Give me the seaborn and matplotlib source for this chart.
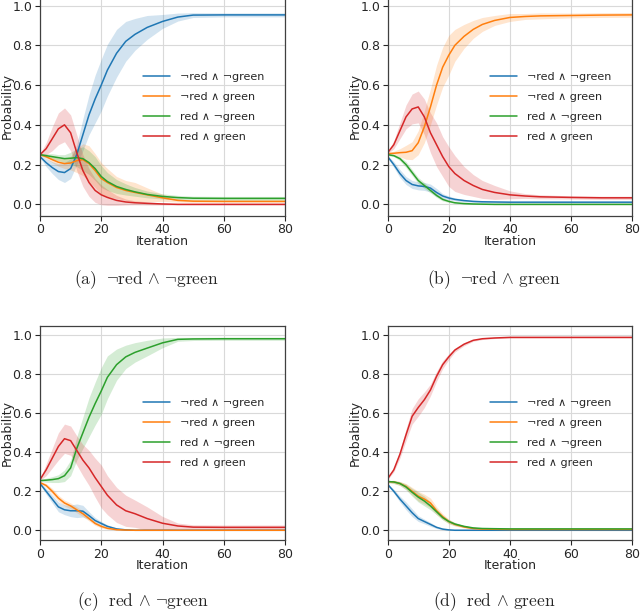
import numpy as np
import pandas as pd
import matplotlib
matplotlib.use("Agg")
import matplotlib.pyplot as plt
import seaborn as sns

ITERS = [0, 2, 4, 6, 8, 10, 12, 14, 16, 18, 20, 22, 25, 28, 31, 35, 40, 45, 50, 60, 70, 80]
LABELS = ["¬red ∧ ¬green", "¬red ∧ green", "red ∧ ¬green", "red ∧ green"]
CAPTIONS = [r"$(\mathrm{a})\ \ \neg\mathrm{red}\,\wedge\,\neg\mathrm{green}$",
            r"$(\mathrm{b})\ \ \neg\mathrm{red}\,\wedge\,\mathrm{green}$",
            r"$(\mathrm{c})\ \ \mathrm{red}\,\wedge\,\neg\mathrm{green}$",
            r"$(\mathrm{d})\ \ \mathrm{red}\,\wedge\,\mathrm{green}$"]

# (a) target: not red and not green
a_mean = [
    [0.24, 0.21, 0.185, 0.165, 0.16, 0.18, 0.25, 0.35, 0.45, 0.53, 0.60, 0.675, 0.76, 0.82, 0.855, 0.89, 0.92, 0.942, 0.952, 0.953, 0.953, 0.953],
    [0.25, 0.24, 0.225, 0.212, 0.205, 0.208, 0.22, 0.225, 0.205, 0.17, 0.13, 0.11, 0.085, 0.07, 0.06, 0.048, 0.033, 0.02, 0.016, 0.015, 0.015, 0.015],
    [0.25, 0.245, 0.24, 0.235, 0.23, 0.232, 0.235, 0.23, 0.21, 0.18, 0.14, 0.115, 0.09, 0.075, 0.063, 0.05, 0.04, 0.034, 0.031, 0.03, 0.03, 0.03],
    [0.25, 0.28, 0.33, 0.38, 0.40, 0.36, 0.26, 0.17, 0.11, 0.07, 0.048, 0.035, 0.02, 0.012, 0.008, 0.005, 0.002, 0.0, 0.0, 0.0, 0.0, 0.0],
]
a_spread = [
    [0.005, 0.02, 0.03, 0.04, 0.05, 0.05, 0.05, 0.08, 0.1, 0.12, 0.13, 0.13, 0.12, 0.1, 0.08, 0.06, 0.035, 0.02, 0.012, 0.01, 0.01, 0.01],
    [0.005, 0.01, 0.015, 0.02, 0.025, 0.035, 0.06, 0.08, 0.09, 0.085, 0.08, 0.07, 0.055, 0.05, 0.05, 0.035, 0.018, 0.008, 0.006, 0.005, 0.005, 0.005],
    [0.005, 0.01, 0.015, 0.015, 0.02, 0.03, 0.045, 0.06, 0.06, 0.06, 0.055, 0.045, 0.035, 0.028, 0.022, 0.017, 0.013, 0.011, 0.01, 0.01, 0.01, 0.01],
    [0.005, 0.03, 0.06, 0.08, 0.085, 0.09, 0.09, 0.08, 0.07, 0.06, 0.05, 0.04, 0.025, 0.015, 0.01, 0.008, 0.005, 0.003, 0.003, 0.003, 0.003, 0.003],
]

# (b) target: not red and green
b_mean = [
    [0.24, 0.2, 0.155, 0.12, 0.1, 0.093, 0.09, 0.082, 0.06, 0.042, 0.032, 0.025, 0.019, 0.015, 0.013, 0.012, 0.011, 0.011, 0.011, 0.011, 0.011, 0.011],
    [0.255, 0.257, 0.26, 0.262, 0.27, 0.31, 0.39, 0.49, 0.6, 0.69, 0.75, 0.8, 0.845, 0.88, 0.905, 0.925, 0.94, 0.945, 0.948, 0.95, 0.952, 0.953],
    [0.25, 0.245, 0.23, 0.2, 0.16, 0.12, 0.095, 0.07, 0.045, 0.025, 0.015, 0.008, 0.004, 0.002, 0.001, 0.0, 0.0, 0.0, 0.0, 0.0, 0.0, 0.0],
    [0.26, 0.3, 0.37, 0.44, 0.48, 0.49, 0.44, 0.36, 0.3, 0.24, 0.19, 0.155, 0.12, 0.095, 0.075, 0.06, 0.048, 0.042, 0.038, 0.035, 0.033, 0.033],
]
b_spread = [
    [0.005, 0.015, 0.02, 0.02, 0.02, 0.02, 0.02, 0.02, 0.02, 0.012, 0.01, 0.008, 0.006, 0.005, 0.005, 0.004, 0.004, 0.004, 0.004, 0.004, 0.004, 0.004],
    [0.005, 0.01, 0.02, 0.035, 0.045, 0.06, 0.08, 0.09, 0.1, 0.1, 0.1, 0.08, 0.06, 0.045, 0.035, 0.025, 0.02, 0.015, 0.015, 0.012, 0.012, 0.012],
    [0.005, 0.005, 0.01, 0.015, 0.015, 0.015, 0.015, 0.012, 0.01, 0.008, 0.005, 0.004, 0.003, 0.002, 0.002, 0.002, 0.002, 0.002, 0.002, 0.002, 0.002, 0.002],
    [0.005, 0.02, 0.04, 0.06, 0.075, 0.08, 0.09, 0.1, 0.11, 0.1, 0.1, 0.09, 0.07, 0.055, 0.045, 0.035, 0.02, 0.012, 0.01, 0.008, 0.008, 0.008],
]

# (c) target: red and not green
c_mean = [
    [0.24, 0.2, 0.16, 0.12, 0.105, 0.1, 0.1, 0.098, 0.075, 0.05, 0.035, 0.02, 0.007, 0.002, 0.0, 0.0, 0.0, 0.0, 0.0, 0.0, 0.0, 0.0],
    [0.245, 0.23, 0.2, 0.165, 0.14, 0.125, 0.105, 0.085, 0.06, 0.035, 0.02, 0.01, 0.003, 0.001, 0.0, 0.0, 0.0, 0.0, 0.0, 0.0, 0.0, 0.0],
    [0.255, 0.257, 0.26, 0.265, 0.28, 0.32, 0.42, 0.5, 0.58, 0.65, 0.715, 0.785, 0.85, 0.89, 0.913, 0.935, 0.962, 0.98, 0.982, 0.983, 0.983, 0.983],
    [0.26, 0.31, 0.37, 0.43, 0.47, 0.46, 0.41, 0.36, 0.32, 0.27, 0.225, 0.18, 0.13, 0.1, 0.085, 0.06, 0.036, 0.022, 0.016, 0.015, 0.015, 0.015],
]
c_spread = [
    [0.005, 0.015, 0.02, 0.025, 0.025, 0.03, 0.035, 0.03, 0.02, 0.015, 0.01, 0.008, 0.004, 0.002, 0.001, 0.001, 0.001, 0.001, 0.001, 0.001, 0.001, 0.001],
    [0.005, 0.01, 0.015, 0.015, 0.015, 0.015, 0.015, 0.015, 0.012, 0.01, 0.008, 0.005, 0.003, 0.002, 0.001, 0.001, 0.001, 0.001, 0.001, 0.001, 0.001, 0.001],
    [0.005, 0.01, 0.015, 0.02, 0.03, 0.04, 0.06, 0.08, 0.1, 0.11, 0.12, 0.11, 0.08, 0.06, 0.05, 0.04, 0.025, 0.01, 0.008, 0.008, 0.008, 0.008],
    [0.005, 0.03, 0.05, 0.07, 0.075, 0.075, 0.075, 0.08, 0.09, 0.1, 0.11, 0.1, 0.09, 0.08, 0.07, 0.06, 0.035, 0.015, 0.012, 0.012, 0.012, 0.012],
]

# (d) target: red and green
d_mean = [
    [0.235, 0.2, 0.16, 0.125, 0.09, 0.06, 0.045, 0.03, 0.015, 0.006, 0.002, 0.0, 0.0, 0.0, 0.0, 0.0, 0.0, 0.0, 0.0, 0.0, 0.0, 0.0],
    [0.25, 0.248, 0.24, 0.225, 0.2, 0.175, 0.16, 0.14, 0.1, 0.07, 0.045, 0.03, 0.017, 0.009, 0.006, 0.005, 0.004, 0.004, 0.004, 0.004, 0.004, 0.004],
    [0.25, 0.248, 0.24, 0.222, 0.195, 0.17, 0.15, 0.125, 0.095, 0.065, 0.045, 0.032, 0.02, 0.012, 0.009, 0.008, 0.007, 0.007, 0.007, 0.007, 0.007, 0.007],
    [0.265, 0.31, 0.39, 0.49, 0.585, 0.63, 0.67, 0.72, 0.79, 0.85, 0.89, 0.925, 0.955, 0.975, 0.983, 0.987, 0.99, 0.99, 0.99, 0.99, 0.99, 0.99],
]
d_spread = [
    [0.005, 0.01, 0.015, 0.02, 0.02, 0.015, 0.012, 0.01, 0.006, 0.004, 0.002, 0.001, 0.001, 0.001, 0.001, 0.001, 0.001, 0.001, 0.001, 0.001, 0.001, 0.001],
    [0.005, 0.008, 0.01, 0.015, 0.02, 0.025, 0.025, 0.025, 0.02, 0.015, 0.012, 0.008, 0.005, 0.004, 0.003, 0.003, 0.003, 0.003, 0.003, 0.003, 0.003, 0.003],
    [0.005, 0.008, 0.01, 0.015, 0.02, 0.025, 0.025, 0.02, 0.015, 0.012, 0.01, 0.008, 0.005, 0.004, 0.003, 0.003, 0.003, 0.003, 0.003, 0.003, 0.003, 0.003],
    [0.005, 0.01, 0.02, 0.03, 0.04, 0.045, 0.04, 0.03, 0.025, 0.02, 0.015, 0.01, 0.008, 0.005, 0.004, 0.003, 0.003, 0.003, 0.003, 0.003, 0.003, 0.003],
]

sns.set_style("whitegrid", {"axes.edgecolor": "0.25", "grid.color": "0.85",
                            "xtick.bottom": True, "ytick.left": True})
plt.rcParams["font.family"] = ["DejaVu Sans"]
plt.rcParams["mathtext.fontset"] = "cm"
plt.rcParams["xtick.major.size"] = 3.5
plt.rcParams["ytick.major.size"] = 3.5
plt.rcParams["xtick.color"] = "0.15"
plt.rcParams["ytick.color"] = "0.15"

colors = sns.color_palette("tab10", 4)
W, H = 640, 614
fig = plt.figure(figsize=(W / 100, H / 100), dpi=100)

# pixel boxes: left, top, right, bottom
boxes = [(40, -4.4, 285, 215.7), (387.7, -4.4, 632, 215.7),
         (40, 325.7, 285, 540), (387.7, 325.7, 632, 540)]
ylims = [(-0.057, 1.05), (-0.057, 1.05), (-0.05, 1.05), (-0.05, 1.05)]
leg_y = [0.494, 0.494, 0.5, 0.5]
cap_pos = [(146, 284), (494, 284), (143, 606), (494, 606)]
panels = [(a_mean, a_spread), (b_mean, b_spread), (c_mean, c_spread), (d_mean, d_spread)]

for k, (means, spreads) in enumerate(panels):
    l, t, r, b = boxes[k]
    ax = fig.add_axes([l / W, 1 - b / H, (r - l) / W, (b - t) / H])
    for i in range(4):
        m = np.array(means[i])
        s = np.array(spreads[i])
        df = pd.DataFrame({"Iteration": ITERS, "Probability": m})
        ax.fill_between(ITERS, m - s, m + s, color=colors[i], alpha=0.2, linewidth=0)
        sns.lineplot(data=df, x="Iteration", y="Probability", color=colors[i],
                     linewidth=1.1, label=LABELS[i], ax=ax)
    ax.set_xlim(0, 80)
    ax.set_ylim(*ylims[k])
    ax.set_xticks([0, 20, 40, 60, 80])
    ax.set_yticks([0.0, 0.2, 0.4, 0.6, 0.8, 1.0])
    ax.tick_params(labelsize=9, pad=2)
    ax.set_xlabel("Iteration", fontsize=9, labelpad=-1)
    ax.set_ylabel("Probability", fontsize=9, labelpad=-1)
    for sp in ax.spines.values():
        sp.set_linewidth(0.9)
    ax.legend(loc="center left", bbox_to_anchor=(0.42, leg_y[k]), frameon=False,
              fontsize=8, borderpad=0, borderaxespad=0, handlelength=2.4,
              handletextpad=0.9, labelspacing=0.9)
    cx, cy = cap_pos[k]
    fig.text(cx / W, 1 - cy / H, CAPTIONS[k], ha="center", va="baseline", fontsize=12.5)

fig.savefig("out.png", dpi=100)
